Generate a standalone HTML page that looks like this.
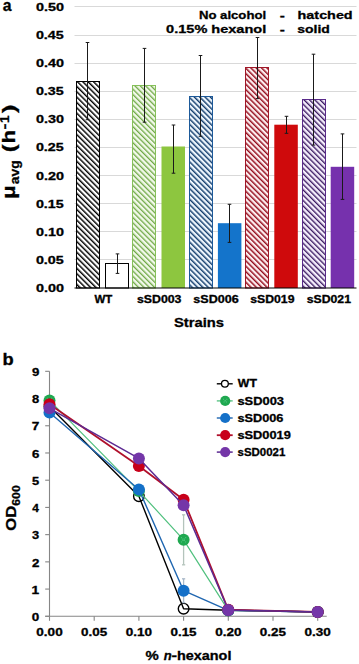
<!DOCTYPE html>
<html><head><meta charset="utf-8"><style>
html,body{margin:0;padding:0;background:#fff;width:359px;height:664px;overflow:hidden}
svg{display:block}
text{font-family:"Liberation Sans",sans-serif;font-weight:bold;stroke:#000;stroke-width:0.3px}
</style></head><body>
<svg width="359" height="664" viewBox="0 0 359 664">
<rect width="359" height="664" fill="#fff"/>
<defs>
<pattern id="hk" patternUnits="userSpaceOnUse" width="3.783" height="3.783" patternTransform="rotate(-45)"><rect width="3.783" height="3.783" fill="#fff"/><rect x="0" y="0" width="1.450" height="3.783" fill="#000"/></pattern>
<pattern id="hg" patternUnits="userSpaceOnUse" width="3.783" height="3.783" patternTransform="rotate(-45)"><rect width="3.783" height="3.783" fill="#f2f9ea"/><rect x="0" y="0" width="1.300" height="3.783" fill="#6fa845"/></pattern>
<pattern id="hb" patternUnits="userSpaceOnUse" width="3.783" height="3.783" patternTransform="rotate(-45)"><rect width="3.783" height="3.783" fill="#eef6fd"/><rect x="0" y="0" width="1.450" height="3.783" fill="#143e6e"/></pattern>
<pattern id="hr" patternUnits="userSpaceOnUse" width="3.783" height="3.783" patternTransform="rotate(-45)"><rect width="3.783" height="3.783" fill="#fdeef0"/><rect x="0" y="0" width="1.450" height="3.783" fill="#950c1c"/></pattern>
<pattern id="hp" patternUnits="userSpaceOnUse" width="3.783" height="3.783" patternTransform="rotate(-45)"><rect width="3.783" height="3.783" fill="#f5eefc"/><rect x="0" y="0" width="1.350" height="3.783" fill="#3b1a62"/></pattern>
</defs>
<line x1="74.5" x2="356.5" y1="259.50" y2="259.50" stroke="#d9d9d9" stroke-width="1"/>
<line x1="74.5" x2="356.5" y1="231.50" y2="231.50" stroke="#d9d9d9" stroke-width="1"/>
<line x1="74.5" x2="356.5" y1="203.50" y2="203.50" stroke="#d9d9d9" stroke-width="1"/>
<line x1="74.5" x2="356.5" y1="175.50" y2="175.50" stroke="#d9d9d9" stroke-width="1"/>
<line x1="74.5" x2="356.5" y1="147.50" y2="147.50" stroke="#d9d9d9" stroke-width="1"/>
<line x1="74.5" x2="356.5" y1="119.50" y2="119.50" stroke="#d9d9d9" stroke-width="1"/>
<line x1="74.5" x2="356.5" y1="91.50" y2="91.50" stroke="#d9d9d9" stroke-width="1"/>
<line x1="74.5" x2="356.5" y1="63.50" y2="63.50" stroke="#d9d9d9" stroke-width="1"/>
<line x1="74.5" x2="356.5" y1="35.50" y2="35.50" stroke="#d9d9d9" stroke-width="1"/>
<line x1="74.5" x2="356.5" y1="6.50" y2="6.50" stroke="#d9d9d9" stroke-width="1"/>
<text x="35.93" y="292.00" font-size="11.2" textLength="27.96" lengthAdjust="spacingAndGlyphs" fill="#000" style="" >0.00</text>
<text x="35.94" y="263.89" font-size="11.2" textLength="27.76" lengthAdjust="spacingAndGlyphs" fill="#000" style="" >0.05</text>
<text x="35.93" y="235.78" font-size="11.2" textLength="27.96" lengthAdjust="spacingAndGlyphs" fill="#000" style="" >0.10</text>
<text x="35.94" y="207.67" font-size="11.2" textLength="27.76" lengthAdjust="spacingAndGlyphs" fill="#000" style="" >0.15</text>
<text x="35.93" y="179.56" font-size="11.2" textLength="27.96" lengthAdjust="spacingAndGlyphs" fill="#000" style="" >0.20</text>
<text x="35.94" y="151.45" font-size="11.2" textLength="27.76" lengthAdjust="spacingAndGlyphs" fill="#000" style="" >0.25</text>
<text x="35.93" y="123.34" font-size="11.2" textLength="27.96" lengthAdjust="spacingAndGlyphs" fill="#000" style="" >0.30</text>
<text x="35.94" y="95.23" font-size="11.2" textLength="27.76" lengthAdjust="spacingAndGlyphs" fill="#000" style="" >0.35</text>
<text x="35.93" y="67.12" font-size="11.2" textLength="27.96" lengthAdjust="spacingAndGlyphs" fill="#000" style="" >0.40</text>
<text x="35.94" y="39.01" font-size="11.2" textLength="27.76" lengthAdjust="spacingAndGlyphs" fill="#000" style="" >0.45</text>
<text x="35.93" y="10.90" font-size="11.2" textLength="27.96" lengthAdjust="spacingAndGlyphs" fill="#000" style="" >0.50</text>
<rect x="76.50" y="81.50" width="23" height="206.50" fill="url(#hk)" stroke="#000" stroke-width="1"/>
<rect x="105.5" y="263.50" width="23" height="24.50" fill="#fff" stroke="#000" stroke-width="1"/>
<rect x="132.50" y="85.50" width="23" height="202.50" fill="url(#hg)" stroke="#86c05a" stroke-width="1"/>
<rect x="161.50" y="146.50" width="23.50" height="141.50" fill="#8dc63f"/>
<rect x="189.50" y="96.50" width="23" height="191.50" fill="url(#hb)" stroke="#1d5a9a" stroke-width="1"/>
<rect x="217.90" y="223.20" width="23.50" height="64.80" fill="#1474cb"/>
<rect x="245.50" y="67.50" width="23" height="220.50" fill="url(#hr)" stroke="#a01828" stroke-width="1"/>
<rect x="274.30" y="124.70" width="23.50" height="163.30" fill="#cf0a0c"/>
<rect x="302.50" y="99.50" width="23" height="188.50" fill="url(#hp)" stroke="#5a2a8a" stroke-width="1"/>
<rect x="330.70" y="166.80" width="23.50" height="121.20" fill="#7631ad"/>
<line x1="87.50" x2="87.50" y1="42.50" y2="119.70" stroke="#1a1a1a" stroke-width="1.0"/>
<line x1="85.70" x2="89.30" y1="42.50" y2="42.50" stroke="#1a1a1a" stroke-width="1.0"/>
<line x1="85.70" x2="89.30" y1="119.70" y2="119.70" stroke="#1a1a1a" stroke-width="1.0"/>
<line x1="117.50" x2="117.50" y1="253.90" y2="273.40" stroke="#1a1a1a" stroke-width="1.0"/>
<line x1="115.70" x2="119.30" y1="253.90" y2="253.90" stroke="#1a1a1a" stroke-width="1.0"/>
<line x1="115.70" x2="119.30" y1="273.40" y2="273.40" stroke="#1a1a1a" stroke-width="1.0"/>
<line x1="144.50" x2="144.50" y1="48.40" y2="122.20" stroke="#1a1a1a" stroke-width="1.0"/>
<line x1="142.70" x2="146.30" y1="48.40" y2="48.40" stroke="#1a1a1a" stroke-width="1.0"/>
<line x1="142.70" x2="146.30" y1="122.20" y2="122.20" stroke="#1a1a1a" stroke-width="1.0"/>
<line x1="173.50" x2="173.50" y1="125.00" y2="173.20" stroke="#1a1a1a" stroke-width="1.0"/>
<line x1="171.70" x2="175.30" y1="125.00" y2="125.00" stroke="#1a1a1a" stroke-width="1.0"/>
<line x1="171.70" x2="175.30" y1="173.20" y2="173.20" stroke="#1a1a1a" stroke-width="1.0"/>
<line x1="200.50" x2="200.50" y1="55.50" y2="136.30" stroke="#1a1a1a" stroke-width="1.0"/>
<line x1="198.70" x2="202.30" y1="55.50" y2="55.50" stroke="#1a1a1a" stroke-width="1.0"/>
<line x1="198.70" x2="202.30" y1="136.30" y2="136.30" stroke="#1a1a1a" stroke-width="1.0"/>
<line x1="229.50" x2="229.50" y1="204.30" y2="242.40" stroke="#1a1a1a" stroke-width="1.0"/>
<line x1="227.70" x2="231.30" y1="204.30" y2="204.30" stroke="#1a1a1a" stroke-width="1.0"/>
<line x1="227.70" x2="231.30" y1="242.40" y2="242.40" stroke="#1a1a1a" stroke-width="1.0"/>
<line x1="257.50" x2="257.50" y1="37.50" y2="98.60" stroke="#1a1a1a" stroke-width="1.0"/>
<line x1="255.70" x2="259.30" y1="37.50" y2="37.50" stroke="#1a1a1a" stroke-width="1.0"/>
<line x1="255.70" x2="259.30" y1="98.60" y2="98.60" stroke="#1a1a1a" stroke-width="1.0"/>
<line x1="286.50" x2="286.50" y1="116.30" y2="133.30" stroke="#1a1a1a" stroke-width="1.0"/>
<line x1="284.70" x2="288.30" y1="116.30" y2="116.30" stroke="#1a1a1a" stroke-width="1.0"/>
<line x1="284.70" x2="288.30" y1="133.30" y2="133.30" stroke="#1a1a1a" stroke-width="1.0"/>
<line x1="313.50" x2="313.50" y1="54.20" y2="145.10" stroke="#1a1a1a" stroke-width="1.0"/>
<line x1="311.70" x2="315.30" y1="54.20" y2="54.20" stroke="#1a1a1a" stroke-width="1.0"/>
<line x1="311.70" x2="315.30" y1="145.10" y2="145.10" stroke="#1a1a1a" stroke-width="1.0"/>
<line x1="342.50" x2="342.50" y1="133.90" y2="199.40" stroke="#1a1a1a" stroke-width="1.0"/>
<line x1="340.70" x2="344.30" y1="133.90" y2="133.90" stroke="#1a1a1a" stroke-width="1.0"/>
<line x1="340.70" x2="344.30" y1="199.40" y2="199.40" stroke="#1a1a1a" stroke-width="1.0"/>
<line x1="74.5" x2="356.5" y1="288.0" y2="288.0" stroke="#000" stroke-width="1.2"/>
<text x="2.84" y="10.80" font-size="16" textLength="8.76" lengthAdjust="spacingAndGlyphs" fill="#000" style="" >a</text>
<text x="198.92" y="18.70" font-size="11.6" textLength="67.21" lengthAdjust="spacingAndGlyphs" fill="#000" style="" >No alcohol</text>
<text x="279.80" y="18.70" font-size="11.6" textLength="5.12" lengthAdjust="spacingAndGlyphs" fill="#000" style="" >-</text>
<text x="297.60" y="18.70" font-size="11.6" textLength="55.05" lengthAdjust="spacingAndGlyphs" fill="#000" style="" >hatched</text>
<text x="166.13" y="33.10" font-size="11.6" textLength="100.10" lengthAdjust="spacingAndGlyphs" fill="#000" style="" >0.15% hexanol</text>
<text x="279.80" y="33.10" font-size="11.6" textLength="5.12" lengthAdjust="spacingAndGlyphs" fill="#000" style="" >-</text>
<text x="297.21" y="33.10" font-size="11.6" textLength="32.61" lengthAdjust="spacingAndGlyphs" fill="#000" style="" >solid</text>
<text x="94.49" y="303.00" font-size="10" textLength="17.83" lengthAdjust="spacingAndGlyphs" fill="#000" style="" >WT</text>
<text x="136.97" y="303.00" font-size="10" textLength="44.48" lengthAdjust="spacingAndGlyphs" fill="#000" style="" >sSD003</text>
<text x="193.36" y="303.00" font-size="10" textLength="45.29" lengthAdjust="spacingAndGlyphs" fill="#000" style="" >sSD006</text>
<text x="250.27" y="303.00" font-size="10" textLength="44.18" lengthAdjust="spacingAndGlyphs" fill="#000" style="" >sSD019</text>
<text x="306.77" y="303.00" font-size="10" textLength="44.17" lengthAdjust="spacingAndGlyphs" fill="#000" style="" >sSD021</text>
<text x="173.97" y="327.20" font-size="13" textLength="50.03" lengthAdjust="spacingAndGlyphs" fill="#000" style="" >Strains</text>
<text transform="rotate(-90)" x="-198.74" y="15.30" font-size="18.5" textLength="13.39" lengthAdjust="spacingAndGlyphs" fill="#000">μ</text>
<text transform="rotate(-90)" x="-184.21" y="19.40" font-size="13" textLength="23.83" lengthAdjust="spacingAndGlyphs" fill="#000">avg</text>
<text transform="rotate(-90)" x="-152.18" y="15.30" font-size="18.5" textLength="7.91" lengthAdjust="spacingAndGlyphs" fill="#000">(</text>
<text transform="rotate(-90)" x="-143.57" y="15.30" font-size="18.5" textLength="13.77" lengthAdjust="spacingAndGlyphs" fill="#000">h</text>
<text transform="rotate(-90)" x="-129.59" y="9.00" font-size="12" textLength="5.90" lengthAdjust="spacingAndGlyphs" fill="#000">-</text>
<text transform="rotate(-90)" x="-122.95" y="9.00" font-size="12" textLength="7.53" lengthAdjust="spacingAndGlyphs" fill="#000">1</text>
<text transform="rotate(-90)" x="-113.12" y="15.30" font-size="18.5" textLength="8.50" lengthAdjust="spacingAndGlyphs" fill="#000">)</text>
<text x="2.50" y="365.10" font-size="16" textLength="11.15" lengthAdjust="spacingAndGlyphs" fill="#000" style="" >b</text>
<line x1="49.5" x2="49.5" y1="371.32" y2="616.3" stroke="#868686" stroke-width="1.1"/>
<line x1="45.2" x2="49.5" y1="616.30" y2="616.30" stroke="#868686" stroke-width="1.1"/>
<text x="31.87" y="621.00" font-size="10.5" textLength="7.48" lengthAdjust="spacingAndGlyphs" fill="#000" style="" >0</text>
<line x1="45.2" x2="49.5" y1="589.08" y2="589.08" stroke="#868686" stroke-width="1.1"/>
<text x="31.53" y="593.78" font-size="10.5" textLength="7.65" lengthAdjust="spacingAndGlyphs" fill="#000" style="" >1</text>
<line x1="45.2" x2="49.5" y1="561.86" y2="561.86" stroke="#868686" stroke-width="1.1"/>
<text x="31.94" y="566.56" font-size="10.5" textLength="7.39" lengthAdjust="spacingAndGlyphs" fill="#000" style="" >2</text>
<line x1="45.2" x2="49.5" y1="534.64" y2="534.64" stroke="#868686" stroke-width="1.1"/>
<text x="32.10" y="539.34" font-size="10.5" textLength="7.16" lengthAdjust="spacingAndGlyphs" fill="#000" style="" >3</text>
<line x1="45.2" x2="49.5" y1="507.42" y2="507.42" stroke="#868686" stroke-width="1.1"/>
<text x="32.22" y="512.12" font-size="10.5" textLength="6.65" lengthAdjust="spacingAndGlyphs" fill="#000" style="" >4</text>
<line x1="45.2" x2="49.5" y1="480.20" y2="480.20" stroke="#868686" stroke-width="1.1"/>
<text x="32.00" y="484.90" font-size="10.5" textLength="7.15" lengthAdjust="spacingAndGlyphs" fill="#000" style="" >5</text>
<line x1="45.2" x2="49.5" y1="452.98" y2="452.98" stroke="#868686" stroke-width="1.1"/>
<text x="31.92" y="457.68" font-size="10.5" textLength="7.36" lengthAdjust="spacingAndGlyphs" fill="#000" style="" >6</text>
<line x1="45.2" x2="49.5" y1="425.76" y2="425.76" stroke="#868686" stroke-width="1.1"/>
<text x="31.81" y="430.46" font-size="10.5" textLength="7.59" lengthAdjust="spacingAndGlyphs" fill="#000" style="" >7</text>
<line x1="45.2" x2="49.5" y1="398.54" y2="398.54" stroke="#868686" stroke-width="1.1"/>
<text x="31.99" y="403.24" font-size="10.5" textLength="7.21" lengthAdjust="spacingAndGlyphs" fill="#000" style="" >8</text>
<line x1="45.2" x2="49.5" y1="371.32" y2="371.32" stroke="#868686" stroke-width="1.1"/>
<text x="31.94" y="376.02" font-size="10.5" textLength="7.35" lengthAdjust="spacingAndGlyphs" fill="#000" style="" >9</text>
<line x1="45.2" x2="326.70" y1="616.3" y2="616.3" stroke="#868686" stroke-width="1.1"/>
<line x1="49.50" x2="49.50" y1="616.3" y2="620.8" stroke="#868686" stroke-width="1.1"/>
<text x="36.37" y="635.70" font-size="10.8" textLength="26.29" lengthAdjust="spacingAndGlyphs" fill="#000" style="" >0.00</text>
<line x1="94.20" x2="94.20" y1="616.3" y2="620.8" stroke="#868686" stroke-width="1.1"/>
<text x="81.07" y="635.70" font-size="10.8" textLength="26.10" lengthAdjust="spacingAndGlyphs" fill="#000" style="" >0.05</text>
<line x1="138.90" x2="138.90" y1="616.3" y2="620.8" stroke="#868686" stroke-width="1.1"/>
<text x="125.77" y="635.70" font-size="10.8" textLength="26.29" lengthAdjust="spacingAndGlyphs" fill="#000" style="" >0.10</text>
<line x1="183.60" x2="183.60" y1="616.3" y2="620.8" stroke="#868686" stroke-width="1.1"/>
<text x="170.47" y="635.70" font-size="10.8" textLength="26.10" lengthAdjust="spacingAndGlyphs" fill="#000" style="" >0.15</text>
<line x1="228.30" x2="228.30" y1="616.3" y2="620.8" stroke="#868686" stroke-width="1.1"/>
<text x="215.17" y="635.70" font-size="10.8" textLength="26.29" lengthAdjust="spacingAndGlyphs" fill="#000" style="" >0.20</text>
<line x1="273.00" x2="273.00" y1="616.3" y2="620.8" stroke="#868686" stroke-width="1.1"/>
<text x="259.87" y="635.70" font-size="10.8" textLength="26.10" lengthAdjust="spacingAndGlyphs" fill="#000" style="" >0.25</text>
<line x1="317.70" x2="317.70" y1="616.3" y2="620.8" stroke="#868686" stroke-width="1.1"/>
<text x="304.57" y="635.70" font-size="10.8" textLength="26.29" lengthAdjust="spacingAndGlyphs" fill="#000" style="" >0.30</text>
<text x="145.63" y="659.80" font-size="12.5" textLength="13.26" lengthAdjust="spacingAndGlyphs" fill="#000" style="" >%</text>
<text x="163.88" y="659.80" font-size="12.5" textLength="7.97" lengthAdjust="spacingAndGlyphs" fill="#000" style="font-style:italic;" >n</text>
<text x="171.45" y="659.80" font-size="12.5" textLength="5.51" lengthAdjust="spacingAndGlyphs" fill="#000" style="" >-</text>
<text x="176.99" y="659.80" font-size="12.5" textLength="54.43" lengthAdjust="spacingAndGlyphs" fill="#000" style="" >hexanol</text>
<text transform="rotate(-90)" x="-530.69" y="15.80" font-size="15.5" textLength="25.09" lengthAdjust="spacingAndGlyphs" fill="#000">OD</text>
<text transform="rotate(-90)" x="-505.75" y="19.50" font-size="10.3" textLength="20.45" lengthAdjust="spacingAndGlyphs" fill="#000">600</text>
<polyline points="49.50,406.43 138.90,496.26 183.60,608.68 228.30,610.31 317.70,611.94" fill="none" stroke="#000" stroke-width="1.4" stroke-linejoin="round"/>
<circle cx="49.50" cy="406.43" r="5.30" fill="none" stroke="#000" stroke-width="1.4"/>
<circle cx="138.90" cy="496.26" r="5.30" fill="none" stroke="#000" stroke-width="1.4"/>
<circle cx="183.60" cy="608.68" r="5.30" fill="none" stroke="#000" stroke-width="1.4"/>
<circle cx="228.30" cy="610.31" r="5.30" fill="none" stroke="#000" stroke-width="1.4"/>
<circle cx="317.70" cy="611.94" r="5.30" fill="none" stroke="#000" stroke-width="1.4"/>
<polyline points="49.50,400.45 138.90,491.09 183.60,539.81 228.30,610.31 317.70,611.94" fill="none" stroke="#50c07e" stroke-width="1.2" stroke-linejoin="round"/>
<line x1="183.60" x2="183.60" y1="514.81" y2="564.81" stroke="#b4c4bc" stroke-width="1.3"/>
<line x1="182.00" x2="185.20" y1="514.81" y2="514.81" stroke="#b4c4bc" stroke-width="1.3"/>
<line x1="182.00" x2="185.20" y1="564.81" y2="564.81" stroke="#b4c4bc" stroke-width="1.3"/>
<circle cx="49.50" cy="400.45" r="6.00" fill="#1fa850"/>
<path d="M47.00,397.95L52.00,402.95M52.00,397.95L47.00,402.95" stroke="#5ccf8c" stroke-width="1.2" stroke-dasharray="1 1" opacity="0.8"/>
<circle cx="138.90" cy="491.09" r="6.00" fill="#1fa850"/>
<path d="M136.40,488.59L141.40,493.59M141.40,488.59L136.40,493.59" stroke="#5ccf8c" stroke-width="1.2" stroke-dasharray="1 1" opacity="0.8"/>
<circle cx="183.60" cy="539.81" r="6.00" fill="#1fa850"/>
<path d="M181.10,537.31L186.10,542.31M186.10,537.31L181.10,542.31" stroke="#5ccf8c" stroke-width="1.2" stroke-dasharray="1 1" opacity="0.8"/>
<circle cx="228.30" cy="610.31" r="6.00" fill="#1fa850"/>
<path d="M225.80,607.81L230.80,612.81M230.80,607.81L225.80,612.81" stroke="#5ccf8c" stroke-width="1.2" stroke-dasharray="1 1" opacity="0.8"/>
<circle cx="317.70" cy="611.94" r="6.00" fill="#1fa850"/>
<path d="M315.20,609.44L320.20,614.44M320.20,609.44L315.20,614.44" stroke="#5ccf8c" stroke-width="1.2" stroke-dasharray="1 1" opacity="0.8"/>
<polyline points="49.50,412.42 138.90,489.45 183.60,590.71 228.30,610.31 317.70,611.94" fill="none" stroke="#1f66b0" stroke-width="1.4" stroke-linejoin="round"/>
<line x1="183.60" x2="183.60" y1="578.81" y2="602.61" stroke="#a8b8c8" stroke-width="1.3"/>
<line x1="182.00" x2="185.20" y1="578.81" y2="578.81" stroke="#a8b8c8" stroke-width="1.3"/>
<line x1="182.00" x2="185.20" y1="602.61" y2="602.61" stroke="#a8b8c8" stroke-width="1.3"/>
<circle cx="49.50" cy="412.42" r="6.00" fill="#1470c8"/>
<circle cx="138.90" cy="489.45" r="6.00" fill="#1470c8"/>
<circle cx="183.60" cy="590.71" r="6.00" fill="#1470c8"/>
<circle cx="228.30" cy="610.31" r="6.00" fill="#1470c8"/>
<circle cx="317.70" cy="611.94" r="6.00" fill="#1470c8"/>
<polyline points="49.50,404.26 138.90,466.05 183.60,499.80 228.30,609.77 317.70,611.94" fill="none" stroke="#b0102c" stroke-width="1.8" stroke-linejoin="round"/>
<circle cx="49.50" cy="404.26" r="6.00" fill="#c8001a"/>
<circle cx="138.90" cy="466.05" r="6.00" fill="#c8001a"/>
<circle cx="183.60" cy="499.80" r="6.00" fill="#c8001a"/>
<circle cx="228.30" cy="609.77" r="6.00" fill="#c8001a"/>
<circle cx="317.70" cy="611.94" r="6.00" fill="#c8001a"/>
<polyline points="49.50,408.34 138.90,458.42 183.60,505.24 228.30,610.04 317.70,611.94" fill="none" stroke="#5c2a92" stroke-width="1.5" stroke-linejoin="round"/>
<circle cx="49.50" cy="408.34" r="6.00" fill="#7436a8"/>
<circle cx="138.90" cy="458.42" r="6.00" fill="#7436a8"/>
<circle cx="183.60" cy="505.24" r="6.00" fill="#7436a8"/>
<circle cx="228.30" cy="610.04" r="6.00" fill="#7436a8"/>
<circle cx="317.70" cy="611.94" r="6.00" fill="#7436a8"/>
<line x1="216.8" x2="232.7" y1="383.80" y2="383.80" stroke="#000" stroke-width="1.4"/>
<circle cx="224.9" cy="383.80" r="3.4" fill="#fff" stroke="#000" stroke-width="1.3"/>
<text x="237.89" y="387.40" font-size="11" textLength="19.04" lengthAdjust="spacingAndGlyphs" fill="#000" style="" >WT</text>
<line x1="216.8" x2="232.7" y1="400.90" y2="400.90" stroke="#50c07e" stroke-width="1.3"/>
<circle cx="225.2" cy="400.90" r="5.1" fill="#1fa850"/>
<path d="M223.20,398.90L227.20,402.90M227.20,398.90L223.20,402.90" stroke="#5ccf8c" stroke-width="1.1" stroke-dasharray="1 1" opacity="0.8"/>
<text x="237.45" y="405.20" font-size="11" textLength="46.52" lengthAdjust="spacingAndGlyphs" fill="#000" style="" >sSD003</text>
<line x1="216.8" x2="232.7" y1="418.00" y2="418.00" stroke="#1f66b0" stroke-width="1.4"/>
<circle cx="225.2" cy="418.00" r="5.1" fill="#1470c8"/>
<text x="237.45" y="422.10" font-size="11" textLength="46.01" lengthAdjust="spacingAndGlyphs" fill="#000" style="" >sSD006</text>
<line x1="216.8" x2="232.7" y1="435.20" y2="435.20" stroke="#b0102c" stroke-width="1.8"/>
<circle cx="225.2" cy="435.20" r="5.1" fill="#c8001a"/>
<text x="237.45" y="439.20" font-size="11" textLength="53.43" lengthAdjust="spacingAndGlyphs" fill="#000" style="" >sSD0019</text>
<line x1="216.8" x2="232.7" y1="452.10" y2="452.10" stroke="#5c2a92" stroke-width="1.5"/>
<circle cx="225.2" cy="452.10" r="5.1" fill="#7436a8"/>
<text x="237.50" y="456.40" font-size="11" textLength="47.82" lengthAdjust="spacingAndGlyphs" fill="#000" style="" >sSD0021</text>
</svg>
</body></html>
